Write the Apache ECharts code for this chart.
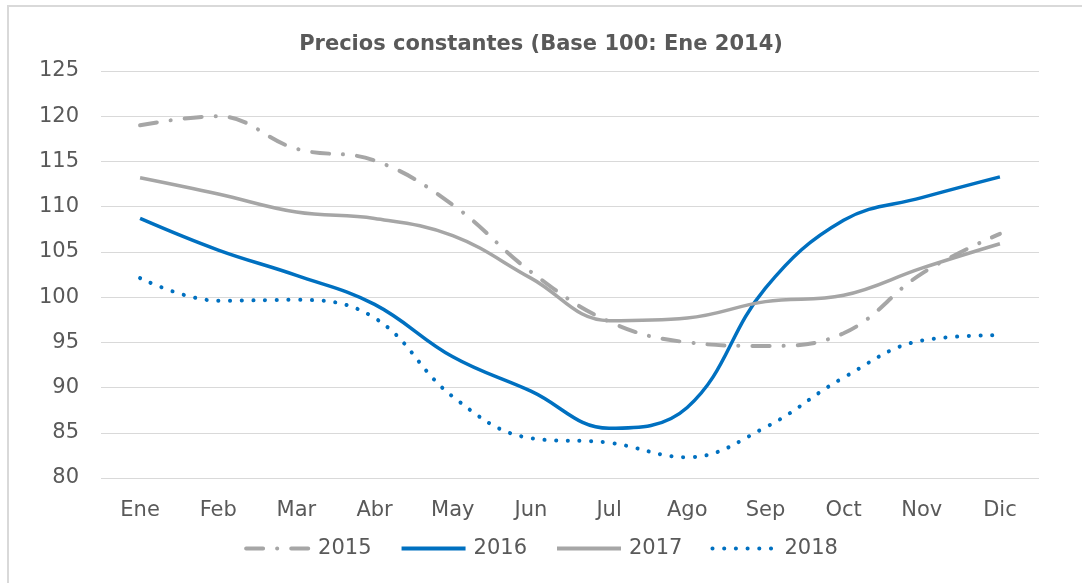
<!DOCTYPE html>
<html>
<head>
<meta charset="utf-8">
<script src="https://cdn.jsdelivr.net/npm/echarts@6/dist/echarts.min.js"></script>
<style>
  html, body { margin: 0; padding: 0; background: #fff; }
  #main { width: 1082px; height: 583px; }
</style>
</head>
<body>
<div id="main"></div>
<script>
// 月份与各年份数据
const months = ['Ene', 'Feb', 'Mar', 'Abr', 'May', 'Jun', 'Jul', 'Ago', 'Sep', 'Oct', 'Nov', 'Dic'];
const y2015 = [119, 120, 116.4, 115.1, 110.2, 102.8, 97.3, 95, 94.6, 96, 102.6, 107];
const y2016 = [108.7, 105.2, 102.4, 99.2, 93.4, 89.6, 85.5, 87.8, 101, 108.5, 111, 113.3];
const y2017 = [113.2, 111.4, 109.4, 108.7, 106.8, 102.1, 97.4, 97.7, 99.5, 100.2, 103.2, 105.9];
const y2018 = [102.1, 99.6, 99.7, 97.7, 89, 84.4, 83.9, 82.3, 85.6, 91.1, 95.2, 95.8];

const gray = '#A6A6A6';
const blue = '#0070C0';
const txt = '#595959';
const font = 'DejaVu Sans';

let chart = echarts.init(document.getElementById('main'));

let option = {
    backgroundColor: '#fff',
    animation: false,
    // 外框
    graphic: [{
        type: 'rect',
        shape: { x: 8, y: 6, width: 1090, height: 600 },
        style: { fill: 'none', stroke: '#D9D9D9', lineWidth: 2 }
    }],
    title: {
        text: 'Precios constantes (Base 100: Ene 2014)',
        left: 'center',
        top: 29,
        textStyle: { color: txt, fontSize: 21, fontWeight: 'bold', fontFamily: font }
    },
    grid: { left: 101, right: 43, top: 71, bottom: 105 },
    legend: {
        bottom: 19,
        left: 'center',
        itemWidth: 64,
        itemHeight: 14,
        itemGap: 28,
        itemStyle: { opacity: 0 },
        lineStyle: { width: 4 },
        textStyle: { color: txt, fontSize: 21, fontFamily: font, padding: [0, 0, 0, 3] },
        data: ['2015', '2016', '2017', '2018']
    },
    xAxis: {
        type: 'category',
        data: months,
        boundaryGap: true,
        axisLine: { show: false },
        axisTick: { show: false },
        axisLabel: { color: txt, fontSize: 21, fontFamily: font, margin: 22 }
    },
    yAxis: {
        type: 'value',
        min: 80,
        max: 125,
        interval: 5,
        axisLine: { show: false },
        axisTick: { show: false },
        axisLabel: { color: txt, fontSize: 21, fontFamily: font, margin: 22 },
        splitLine: { lineStyle: { color: '#D9D9D9', width: 1 } }
    },
    series: [
        {
            name: '2015', type: 'line', data: y2015, smooth: 0.4, symbol: 'none',
            lineStyle: { color: gray, width: 4, type: [17, 14, 0.1, 14], cap: 'round' },
            itemStyle: { color: gray }
        },
        {
            name: '2016', type: 'line', data: y2016, smooth: 0.4, symbol: 'none',
            lineStyle: { color: blue, width: 3.5 },
            itemStyle: { color: blue }
        },
        {
            name: '2017', type: 'line', data: y2017, smooth: 0.4, symbol: 'none',
            lineStyle: { color: gray, width: 3.5 },
            itemStyle: { color: gray }
        },
        {
            name: '2018', type: 'line', data: y2018, smooth: 0.4, symbol: 'none',
            lineStyle: { color: blue, width: 4, type: [0.1, 11.6], cap: 'round' },
            itemStyle: { color: blue }
        }
    ]
};

chart.setOption(option);
</script>
</body>
</html>
